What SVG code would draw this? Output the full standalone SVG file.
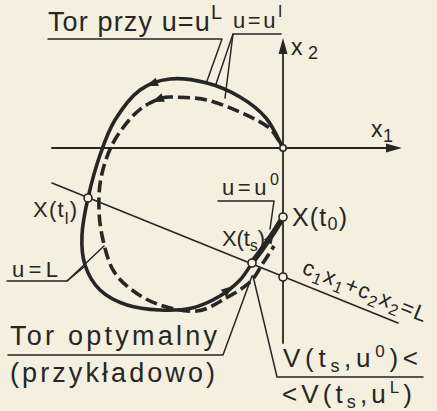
<svg xmlns="http://www.w3.org/2000/svg" xmlns:xlink="http://www.w3.org/1999/xlink" width="437" height="411" viewBox="0 0 437 411">
<style>
.ink{stroke:#262626;fill:none;stroke-linecap:round;stroke-linejoin:round}
.ax{stroke-width:1.8}
.ln{stroke-width:1.6}
.ld{stroke-width:1.5}
.sol{stroke-width:3.6}
.opt{stroke-width:5.5}
.dsh{stroke-width:3.6;stroke-dasharray:12 5;stroke-linecap:butt}
.fillink{fill:#262626;stroke:none}
.pt{fill:#f4efdf;stroke:#262626;stroke-width:1.6}
.t{font-family:"Liberation Sans",Arial,sans-serif;fill:#262626}
</style>
<defs>
<path id="ah" d="M0,0 L-12,-4.5 L-12,4.5 Z"/>
</defs>
<rect width="437" height="411" fill="#f4efdf"/>

<g id="axes">
<line class="ink ax" x1="52" y1="148" x2="392" y2="148"/>
<polygon class="fillink" points="402,148 386,143.5 386,152.5"/>
<line class="ink ax" x1="283" y1="343" x2="283" y2="48"/>
<polygon class="fillink" points="283,38 278.5,54 287.5,54"/>
<line class="ink ln" x1="52" y1="183" x2="398" y2="323"/>
</g>

<g id="connectors">
<path id="solid-trajectory" class="ink sol" d="M283,148 C280.2,143 273.2,126.5 266,118 C258.8,109.5 249.8,102.8 240,97 C230.2,91.2 218.7,86 207,83 C195.3,80 181.2,77.8 170,79 C158.8,80.2 149.2,83.2 140,90 C130.8,96.8 121.7,109.2 115,120 C108.3,130.8 104.5,142 100,155 C95.5,168 91,184.7 88,198 C85,211.3 82.5,223.8 82,235 C81.5,246.2 82,255.8 85,265 C88,274.2 93,283.3 100,290 C107,296.7 117,301.7 127,305 C137,308.3 149.2,309.5 160,310 C170.8,310.5 182,310.3 192,308 C202,305.7 212,300.7 220,296 C228,291.3 234.7,285.5 240,280 C245.3,274.5 250,265.8 252,263"/>
<path id="dashed-trajectory" class="ink dsh" d="M279,141 C277.2,138.7 274.2,131.7 268,127 C261.8,122.3 252.2,117.5 242,113 C231.8,108.5 218.7,102.7 207,100 C195.3,97.3 181.5,97.5 172,97 C162.5,96.5 156.8,99.5 150,103 C143.2,106.5 137.3,111 131,118 C124.7,125 117,135 112,145 C107,155 103.2,167.2 101,178 C98.8,188.8 98.7,199.7 99,210 C99.3,220.3 100.7,230 103,240 C105.3,250 108.2,261.7 113,270 C117.8,278.3 124.2,284.2 132,290 C139.8,295.8 149.2,301.5 160,305 C170.8,308.5 186,312.2 197,311 C208,309.8 217.2,302.8 226,298 C234.8,293.2 243.8,287.8 250,282 C256.2,276.2 259,269 263,263 C267,257.3 272.2,248.8 274,246"/>
<path id="optimal-trajectory" class="ink opt" d="M254,260 Q268,242 282,219"/>
<use xlink:href="#ah" class="fillink" transform="translate(146,86) rotate(160)"/>
<use xlink:href="#ah" class="fillink" transform="translate(152,102) rotate(158)"/>
<use xlink:href="#ah" class="fillink" transform="translate(233,286) rotate(-38)"/>
<use xlink:href="#ah" class="fillink" transform="translate(274,232) rotate(-58)"/>
<polyline class="ink ld" points="48,39 222,39 207,81"/>
<polyline class="ink ld" points="281,34 233,34 216,84"/>
<line class="ink ld" x1="233" y1="34" x2="225" y2="98"/>
<polyline class="ink ld" points="218,201 274,201 270,229"/>
<polyline class="ink ld" points="7,281 67,281 84,267"/>
<line class="ink ld" x1="67" y1="281" x2="104" y2="246"/>
<polyline class="ink ld" points="8,355 223,355 252,276"/>
<polyline class="ink ld" points="423,377 277,377 253,276"/>
</g>

<g id="points">
<circle id="origin" class="pt" cx="283" cy="148" r="3.2"/>
<circle id="x-t0" class="pt" cx="283" cy="217" r="4"/>
<circle id="x-tl" class="pt" cx="88" cy="198" r="4"/>
<circle id="x-ts" class="pt" cx="252" cy="263" r="4"/>
<circle id="x-axis-cross" class="pt" cx="283" cy="277" r="4"/>
</g>

<g id="label-tor-przy">
<text class="t" x="48" y="31" font-size="27" textLength="174" lengthAdjust="spacing">Tor przy u=u<tspan dy="-12" font-size="20">L</tspan></text>
</g>
<g id="label-u-ul">
<text class="t" x="233" y="28" font-size="22" textLength="49" lengthAdjust="spacing">u=u<tspan dy="-11" font-size="17">l</tspan></text>
</g>
<g id="label-x2">
<text class="t" x="291" y="55" font-size="23" textLength="27" lengthAdjust="spacing">x<tspan dy="4" font-size="18">2</tspan></text>
</g>
<g id="label-x1">
<text class="t" x="371" y="137" font-size="23" textLength="22" lengthAdjust="spacing">x<tspan dy="5" font-size="18">1</tspan></text>
</g>
<g id="label-u-u0">
<text class="t" x="222" y="195" font-size="22" textLength="57" lengthAdjust="spacing">u=u<tspan dy="-10" font-size="16">0</tspan></text>
</g>
<g id="label-xt0">
<text class="t" x="292" y="226" font-size="25" textLength="55" lengthAdjust="spacing">X(t<tspan dy="4" font-size="18">0</tspan><tspan dy="-4">)</tspan></text>
</g>
<g id="label-xts">
<text class="t" x="222" y="246" font-size="22" textLength="43" lengthAdjust="spacing">X(t<tspan dy="5" font-size="16">s</tspan><tspan dy="-5">)</tspan></text>
</g>
<g id="label-xtl">
<text class="t" x="33" y="217" font-size="22" textLength="44" lengthAdjust="spacing">X(t<tspan dy="7" font-size="17">l</tspan><tspan dy="-7">)</tspan></text>
</g>
<g id="label-u-L">
<text class="t" x="12" y="277" font-size="22" textLength="46" lengthAdjust="spacing">u=L</text>
</g>
<g id="label-line">
<text class="t" x="301" y="273" font-size="22" textLength="132" lengthAdjust="spacing" transform="rotate(22 301 273)">c<tspan dy="5" font-size="16">1</tspan><tspan dy="-5">x</tspan><tspan dy="5" font-size="16">1</tspan><tspan dy="-5">+c</tspan><tspan dy="5" font-size="16">2</tspan><tspan dy="-5">x</tspan><tspan dy="5" font-size="16">2</tspan><tspan dy="-5">=L</tspan></text>
</g>
<g id="label-tor-opt">
<text class="t" x="10" y="345" font-size="27" textLength="207" lengthAdjust="spacing">Tor optymalny</text>
<text class="t" x="10" y="382" font-size="27" textLength="205" lengthAdjust="spacing">(przykładowo)</text>
</g>
<g id="label-v">
<text class="t" x="283" y="367" font-size="26" textLength="135" lengthAdjust="spacing">V(t<tspan dy="5" font-size="18">s</tspan><tspan dy="-5">,u</tspan><tspan dy="-10" font-size="17">0</tspan><tspan dy="10">)&lt;</tspan></text>
<text class="t" x="282" y="403" font-size="26" textLength="130" lengthAdjust="spacing">&lt;V(t<tspan dy="5" font-size="18">s</tspan><tspan dy="-5">,u</tspan><tspan dy="-10" font-size="17">L</tspan><tspan dy="10">)</tspan></text>
</g>
</svg>
